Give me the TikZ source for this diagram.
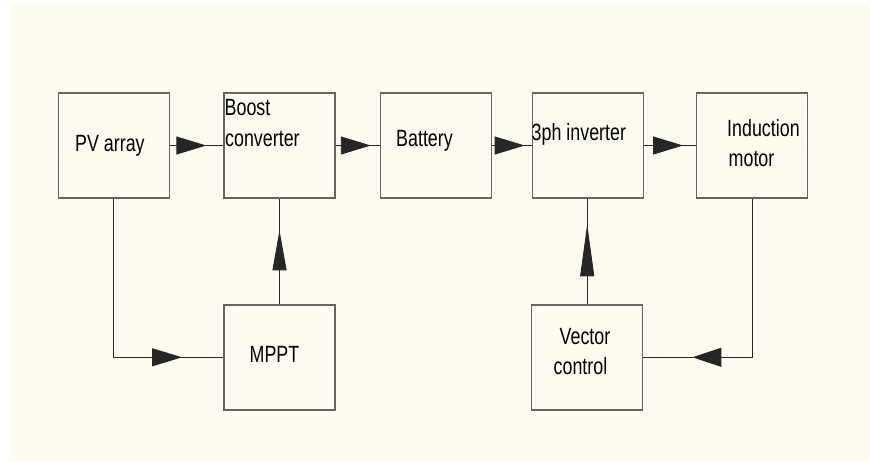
\documentclass[tikz,border=0pt]{standalone}
\usepackage{fontspec}
\usepackage{xcolor}
\usetikzlibrary{arrows.meta, decorations.markings}
\newfontfamily\blockfont[FakeStretch=0.76]{Liberation Sans}
\definecolor{paper}{RGB}{253,251,239}
\definecolor{edge}{RGB}{100,100,96}

\tikzset{
  blk/.style={draw=edge, line width=1.4pt, minimum width=111pt, minimum height=105pt, inner sep=0pt},
  lbl/.style={anchor=base west, inner sep=0pt, font=\blockfont\fontsize{23.5}{30}\selectfont},
  wire/.style={draw=black!85, line width=0.9pt},
  tipat/.style n args={3}{postaction={decorate}, decoration={markings,
      mark=at position #1 with {\arrow{Triangle[length=#2,width=#3]}}}}
}

\begin{document}
\begin{tikzpicture}[x=1pt, y=-1pt]
        \useasboundingbox (0,0) rectangle (870,461);
        \fill[paper] (10,4) rectangle (870,461);

        % blocks
        \node[blk] (pv) at (113.8,145.5) {};
        \node[blk] (boost) at (279.5,145.5) {};
        \node[blk] (battery) at (436.0,145.5) {};
        \node[blk] (inverter) at (588.2,145.5) {};
        \node[blk] (motor) at (752.0,145.5) {};
        \node[blk] (mppt) at (279.5,357.3) {};
        \node[blk] (vector) at (587.2,357.3) {};

        % texts
        \node[lbl] (pvtxt) at (75.0,151.5) {PV array};
        \node[lbl] (boosttxt1) at (224.5,115.7) {Boost};
        \node[lbl] (boosttxt2) at (225.0,146.7) {converter};
        \node[lbl] (batterytxt) at (396.0,146.7) {Battery};
        \node[lbl] (invertertxt) at (531.5,140.0) {3ph inverter};
        \node[lbl] (motortxt1) at (727.0,136.0) {Induction};
        \node[lbl] (motortxt2) at (728.5,166.0) {motor};
        \node[lbl] (mppttxt) at (249.5,362.3) {MPPT};
        \node[lbl] (vectortxt1) at (559.5,344.0) {Vector};
        \node[lbl] (vectortxt2) at (553.5,374.3) {control};

        % connectors
        \draw[wire, tipat={-17pt}{30pt}{18pt}] (pv) -- (boost);
        \draw[wire, tipat={-9pt}{30pt}{18pt}] (boost) -- (battery);
        \draw[wire, tipat={-7.3pt}{30pt}{18pt}] (battery) -- (inverter);
        \draw[wire, tipat={-12.7pt}{30pt}{18pt}] (inverter) -- (motor);
        \draw[wire, tipat={-41.3pt}{30pt}{18pt}] (pv) |- (mppt);
        \draw[wire, tipat={-31.6pt}{40pt}{14pt}] (mppt) -- (boost);
        \draw[wire, tipat={-25.6pt}{52pt}{14pt}] (vector.north) -- (vector.north |- inverter.south);
        \draw[wire, tipat={-49pt}{29pt}{19pt}] (motor) |- (vector);
    \end{tikzpicture}
\end{document}
